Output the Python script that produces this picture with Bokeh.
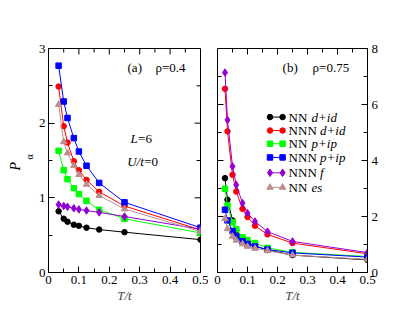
from math import pi
from bokeh.plotting import figure
from bokeh.models import Range1d, FixedTicker, Label, Title, CustomJSTickFormatter
from bokeh.layouts import row
from bokeh.embed import file_html
from bokeh.resources import INLINE
from bokeh.core.properties import value

# ---------------- data ----------------
T_a = [0.0333, 0.05, 0.0625, 0.0833, 0.1, 0.125, 0.1667, 0.25, 0.5]
nn_did_a = [0.82, 0.72, 0.68, 0.64, 0.625, 0.60, 0.575, 0.54, 0.44]
nnn_did_a = [2.49, 1.96, 1.74, 1.49, 1.37, 1.24, 1.08, 0.89, 0.57]
nn_pip_a = [1.63, 1.37, 1.25, 1.13, 1.05, 0.96, 0.84, 0.72, 0.53]
nnn_pip_a = [2.77, 2.29, 2.07, 1.80, 1.62, 1.43, 1.20, 0.94, 0.60]
nnn_f_a = [0.91, 0.89, 0.88, 0.86, 0.845, 0.83, 0.805, 0.75, 0.58]
nn_es_a = [2.25, 1.75, 1.60, 1.43, 1.31, 1.18, 1.03, 0.85, 0.55]

T_b = [0.025, 0.0333, 0.05, 0.0625, 0.0833, 0.1, 0.125, 0.1667, 0.25, 0.5]
nn_did_b = [3.37, 2.60, 1.86, 1.52, 1.22, 1.08, 0.95, 0.80, 0.62, 0.45]
nnn_did_b = [6.56, 5.04, 3.49, 2.89, 2.27, 1.98, 1.67, 1.36, 1.05, 0.67]
nn_pip_b = [2.99, 2.39, 1.79, 1.55, 1.26, 1.16, 1.05, 0.88, 0.72, 0.57]
nnn_pip_b = [2.24, 1.86, 1.48, 1.29, 1.12, 1.02, 0.93, 0.82, 0.70, 0.55]
nnn_f_b = [7.14, 5.45, 3.79, 3.13, 2.48, 2.12, 1.82, 1.46, 1.11, 0.71]
nn_es_b = [1.92, 1.56, 1.29, 1.15, 1.02, 0.93, 0.86, 0.78, 0.62, 0.47]

legend_prefix = ["NN ", "NNN ", "NN ", "NNN ", "NNN ", "NN "]
legend_suffix = ["d+id", "d+id", "p+ip", "p+ip", "f", "es"]

x_ticks = [0, 0.1, 0.2, 0.3, 0.4, 0.5]
x_minor = [0.05, 0.15, 0.25, 0.35, 0.45]
ya_ticks = [0, 1, 2, 3]
ya_minor = [0.5, 1.5, 2.5]
yb_ticks = [0, 2, 4, 6, 8]
yb_minor = [1, 3, 5, 7]

# ---------------- styles ----------------
SERIF = "'Liberation Serif'"
colors = ["#000000", "#ff0000", "#00ff00", "#0000ff", "#9400d3", "#bc8f8f"]
markers = ["circle", "circle", "square", "square", "diamond", "triangle"]
msizes = [5.5, 5.5, 5.5, 5.5, 7.5, 6.5]

xfmt = CustomJSTickFormatter(code="return tick == 0 ? '0' : tick.toFixed(1);")
yfmt = CustomJSTickFormatter(code="return tick.toFixed(0);")


def style_axis(ax, ticks, minor, fmt):
    ax.ticker = FixedTicker(ticks=ticks, minor_ticks=minor)
    ax.formatter = fmt
    ax.major_tick_in = 6
    ax.major_tick_out = 0
    ax.minor_tick_in = 4
    ax.minor_tick_out = 0
    ax.axis_line_color = "black"
    ax.major_tick_line_color = "black"
    ax.minor_tick_line_color = "black"
    ax.major_label_text_font = SERIF
    ax.major_label_text_color = "black"
    ax.major_label_text_font_size = "13px"
    ax.major_label_standoff = 3


def mirror_ticks(p, xmax, ymax, xt, xm, yt, ym, side):
    # inward ticks along the top edge and along the opposite vertical edge
    p.ray(x=xt, y=[ymax] * len(xt), length=6, length_units="screen",
          angle=-pi / 2, line_color="black", line_width=1)
    p.ray(x=xm, y=[ymax] * len(xm), length=4, length_units="screen",
          angle=-pi / 2, line_color="black", line_width=1)
    xe = xmax if side == "right" else 0
    ang = pi if side == "right" else 0
    p.ray(x=[xe] * len(yt), y=yt, length=6, length_units="screen",
          angle=ang, line_color="black", line_width=1)
    p.ray(x=[xe] * len(ym), y=ym, length=4, length_units="screen",
          angle=ang, line_color="black", line_width=1)


def make_fig(frame_w, yr, y_loc, mleft, mright):
    p = figure(frame_width=frame_w, frame_height=224,
               x_range=Range1d(0, 0.5), y_range=Range1d(0, yr),
               output_backend="svg", toolbar_location=None,
               y_axis_location=y_loc,
               min_border_left=mleft, min_border_right=mright,
               min_border_top=48, min_border_bottom=40)
    p.grid.visible = False
    p.outline_line_color = "black"
    p.background_fill_color = "white"
    p.border_fill_color = "white"
    return p


def set_xlabel(p):
    ax = p.xaxis[0]
    ax.axis_label = "T/t"
    ax.axis_label_text_font = SERIF
    ax.axis_label_text_font_style = "italic"
    ax.axis_label_text_font_size = "13px"
    ax.axis_label_standoff = 1


def lab(p, x, y, text, italic=False, size="13px", xoff=0):
    p.add_layout(Label(x=x, y=y, text=text,
                       text_font=SERIF, text_font_size=size,
                       text_font_style="italic" if italic else "normal",
                       text_color="black", text_align="left",
                       text_baseline="middle", x_offset=xoff))


# ---------------- panel (a) ----------------
pa = make_fig(152, 3, "left", 48, 8)
style_axis(pa.xaxis[0], x_ticks, x_minor, xfmt)
style_axis(pa.yaxis[0], ya_ticks, ya_minor, yfmt)
set_xlabel(pa)
mirror_ticks(pa, 0.5, 3, x_ticks, x_minor, ya_ticks, ya_minor, "right")

# y label P_alpha built from two titles on the left side
pa.add_layout(Title(text="α", align="left", offset=113, standoff=0,
                    vertical_align="middle",
                    text_font=SERIF, text_font_size="10px",
                    text_font_style="normal", text_color="black"), "left")
pa.add_layout(Title(text="P", align="left", offset=102, standoff=0,
                    vertical_align="bottom",
                    text_font=SERIF, text_font_size="14px",
                    text_font_style="italic", text_color="black"), "left")

series_a = [nn_did_a, nnn_did_a, nn_pip_a, nnn_pip_a, nnn_f_a, nn_es_a]
for ys, c, m, s in zip(series_a, colors, markers, msizes):
    pa.line(T_a, ys, line_color=c, line_width=1)
    pa.scatter(T_a, ys, marker=m, size=s, fill_color=c, line_color=c)

lab(pa, 0.26, 2.745, "(a)")
lab(pa, 0.352, 2.745, "ρ=0.4")
lab(pa, 0.27, 1.795, "L", italic=True)
lab(pa, 0.27, 1.795, "=6", xoff=7.5)
lab(pa, 0.259, 1.487, "U/t", italic=True)
lab(pa, 0.259, 1.487, "=0", xoff=17)

# ---------------- panel (b) ----------------
pb = make_fig(150, 8, "right", 9, 30)
style_axis(pb.xaxis[0], x_ticks, x_minor, xfmt)
style_axis(pb.yaxis[0], yb_ticks, yb_minor, yfmt)
pb.yaxis[0].major_label_standoff = 4
set_xlabel(pb)
mirror_ticks(pb, 0.5, 8, x_ticks, x_minor, yb_ticks, yb_minor, "left")

series_b = [nn_did_b, nnn_did_b, nn_pip_b, nnn_pip_b, nnn_f_b, nn_es_b]
for ys, c, m, s in zip(series_b, colors, markers, msizes):
    pb.line(T_b, ys, line_color=c, line_width=1)
    pb.scatter(T_b, ys, marker=m, size=s, fill_color=c, line_color=c)

lab(pb, 0.217, 7.33, "(b)")
lab(pb, 0.317, 7.33, "ρ=0.75")

# legend (manual, to allow italic parts)
leg_rows = [5.55, 5.07, 4.60, 4.11, 3.56, 3.04]
LX0, LX1, LXT = 0.175, 0.217, 0.237
for yv, c, m, s in zip(leg_rows, colors, markers, msizes):
    pb.line([LX0, LX1], [yv, yv], line_color=c, line_width=1)
    pb.scatter([LX0, LX1], [yv, yv], marker=m, size=s, fill_color=c, line_color=c)
pb.text(x=[LXT] * 6, y=leg_rows, text=legend_prefix,
        text_font=value(SERIF), text_font_size="13px", text_color="black",
        text_baseline="middle", text_align="left")
offs = [23 if pr == "NN " else 31.5 for pr in legend_prefix]
pb.text(x=[LXT] * 6, y=leg_rows, text=legend_suffix, x_offset=offs,
        text_font=value(SERIF), text_font_size="13px", text_font_style="italic",
        text_color="black", text_baseline="middle", text_align="left")

layout = row(pa, pb)
open("out.html", "w").write(file_html(layout, INLINE))
